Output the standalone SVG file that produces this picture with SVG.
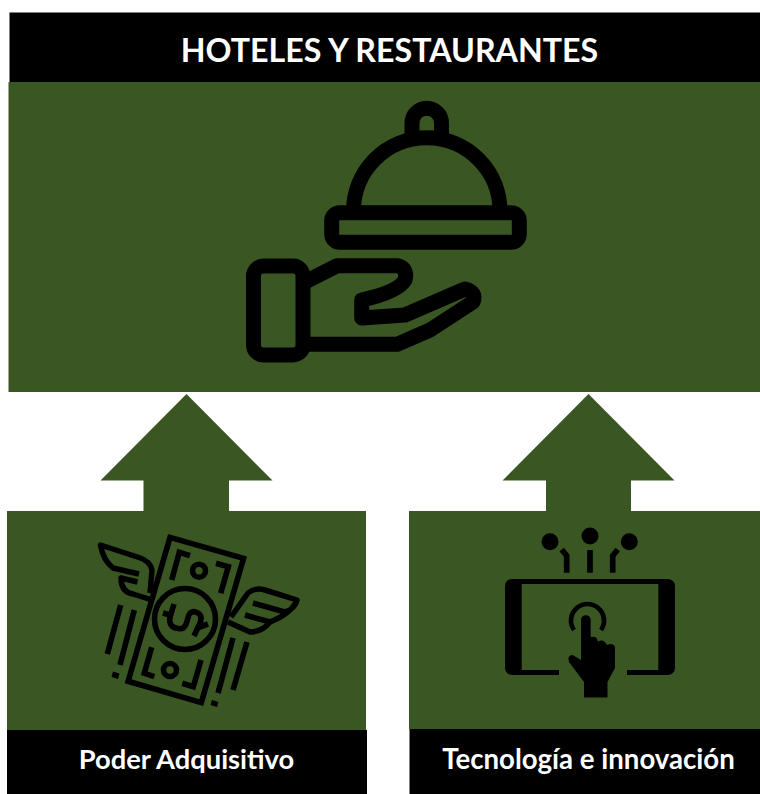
<svg xmlns="http://www.w3.org/2000/svg" width="760" height="794" viewBox="0 0 760 794">
<style>
.g{fill:#3a5723}
.k{fill:#000}
.t{font-family:"Lato","Liberation Sans",sans-serif;font-weight:700;fill:#fff;text-anchor:middle}
.i{fill:none;stroke:#000;stroke-linejoin:round}
.m{fill:none;stroke:#000;stroke-width:5.6;stroke-linejoin:miter}
.w{fill:none;stroke:#000;stroke-width:5.5;stroke-linejoin:round}
.p{fill:none;stroke:#000;stroke-width:5.7}
.f{fill:#000}
</style>
<rect width="760" height="794" fill="#fff"/>
<g id="connectors">
<polygon class="g" points="186.5,394 272.5,480.5 229,480.5 229,512 143.5,512 143.5,480.5 100.5,480.5"/>
<polygon class="g" points="588.5,394 674.5,480.5 631,480.5 631,512 546,512 546,480.5 502.5,480.5"/>
</g>
<g id="node-hoteles">
<rect class="k" x="9.5" y="12.5" width="750.5" height="70"/>
<rect class="g" x="8.5" y="82" width="751.5" height="310"/>
<text class="t" x="389.5" y="61.5" font-size="32.2">HOTELES Y RESTAURANTES</text>
<g class="i" stroke-width="15">
<path d="M353.5,211 A73.2,73.2 0 0 1 500,211"/>
<path d="M412,136 V123 A14.7,14.7 0 0 1 441.5,123 V136"/>
<rect x="331.7" y="212.7" width="187.6" height="29.6" rx="8"/>
<rect x="253.5" y="266" width="49.5" height="89" rx="10"/>
<path d="M305,282 L337,265.7 H397 Q408,268 405,280 Q398,292 361.7,300 V318 L405,315 L465,289 Q477,292 473,302 L430,330 L397,344.3 H305"/>
</g>
</g>
<g id="node-poder">
<rect class="g" x="7" y="511" width="359" height="219"/>
<rect class="k" x="7" y="730" width="360" height="64"/>
<text class="t" x="186.5" y="769" font-size="27.3">Poder Adquisitivo</text>
<polygon class="m" points="170,537.4 243.6,558.4 201.3,702.6 128.1,681.3"/>
<circle class="m" cx="185" cy="619" r="30.5"/>
<circle class="m" cx="199" cy="570.7" r="6.5"/>
<circle class="m" cx="170" cy="670" r="6.5"/>
<path class="m" d="M190,555.7 L179.3,552.3 L171.7,580"/>
<path class="m" d="M216,563.3 L228.3,566.7 L220.7,593.3"/>
<path class="m" d="M151.7,647.3 L144.3,673.3 L154.3,676.7"/>
<path class="m" d="M201,660 L193.3,686.7 L182.3,683.3"/>
<path class="m" d="M174,604 L170,617 Q168,627 178,628.5 Q184,630 186.5,623 L188.5,616 Q191,610 197,612.5 Q203,615 200,623 L194,636"/>
<path class="m" d="M163,613 L173,616"/>
<path class="m" d="M197,628 L208,624"/>
<path class="w" d="M150,593 L152,570 Q150,561 139,557.5 L100.5,545 Q103,560 113,568 L139,574 M137.5,582 L121,578 Q121,592 133,594 L152,600"/>
<path class="w" d="M231,617 L248,593 Q255,587 265,590 L297,600 Q295,609 285,612 L253,603 M297,600 Q292,613 270,622 L245,615 M270,622 Q262,632 250,632 L228,622"/>
<path class="m" d="M120.7,605 L107.3,654 M134.3,610 L120,665 M233,638 L218,693 M247,642 L233,690"/>
<polygon class="f" points="113,671.5 119.5,673.5 118,679 111.5,677"/>
<polygon class="f" points="212,700 218.5,702 217,707 210.5,705"/>
</g>
<g id="node-tecnologia">
<rect class="g" x="409" y="511" width="351" height="218"/>
<rect class="k" x="409.5" y="729" width="350.5" height="65"/>
<text class="t" x="588.5" y="769" font-size="27.6">Tecnología e innovación</text>
<circle class="f" cx="550" cy="541.7" r="8.5"/>
<circle class="f" cx="590" cy="536" r="8.5"/>
<circle class="f" cx="629.3" cy="541.7" r="8.5"/>
<path class="p" d="M590,550 V572.7 M561.7,549.5 L566.7,555.7 V572.7 M617.7,549.5 L612.7,555.7 V572.7"/>
<path class="f" fill-rule="evenodd" d="M513,579 H667 Q675,579 675,587 V667 Q675,675 667,675 H627 V670 H658.3 V584 H521.7 V670 H559 V675 H513 Q505,675 505,667 V587 Q505,579 513,579 Z"/>
<path class="i" stroke-width="4.7" d="M574,630 A16.5,16.5 0 1 1 601,630"/>
<path class="f" d="M581,620 A4.8,4.8 0 0 1 590.7,620 V637 L592,637 Q597,636 598,642 L599,641 Q604,639 607,645 Q613,642 615,647 V668 L607.5,682 V697.5 H584 V682 L569,662 Q567,655 572.5,655 L581,660 Z"/>
</g>
</svg>
